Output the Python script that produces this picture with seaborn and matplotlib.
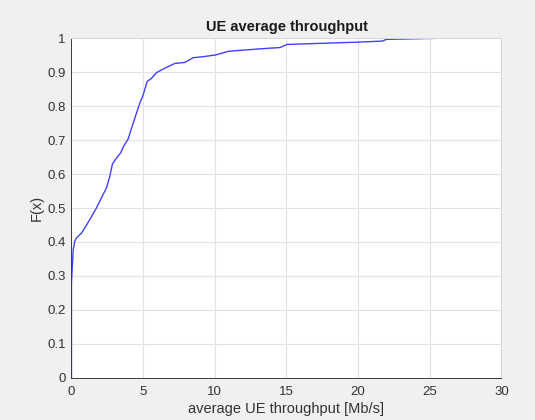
import matplotlib
matplotlib.use("Agg")
import matplotlib.pyplot as plt
import seaborn as sns
import pandas as pd

# CDF points (throughput in Mb/s, cumulative probability)
throughput = [0.0, 0.0, 0.12, 0.23, 0.35, 0.70, 1.05, 1.40, 1.74, 2.09, 2.44, 2.67,
              2.86, 3.14, 3.42, 3.65, 3.95, 4.19, 4.53, 4.77, 5.00, 5.28, 5.58, 5.93,
              6.51, 7.21, 7.91, 8.49, 9.19, 10.05, 10.97, 13.14, 14.56, 15.03, 20.1,
              21.7, 21.97, 25.4]
cdf = [0.0, 0.28, 0.377, 0.402, 0.412, 0.426, 0.45, 0.475, 0.50, 0.53, 0.559, 0.593,
       0.63, 0.647, 0.662, 0.683, 0.703, 0.735, 0.779, 0.809, 0.833, 0.873, 0.882, 0.899,
       0.912, 0.926, 0.929, 0.943, 0.946, 0.951, 0.962, 0.969, 0.973, 0.982, 0.989,
       0.992, 0.997, 1.0]

x_ticks = [0, 5, 10, 15, 20, 25, 30]
y_ticks = [0, 0.1, 0.2, 0.3, 0.4, 0.5, 0.6, 0.7, 0.8, 0.9, 1]
y_tick_labels = ["0", "0.1", "0.2", "0.3", "0.4", "0.5", "0.6", "0.7", "0.8", "0.9", "1"]

df = pd.DataFrame({"x": throughput, "F": cdf})

sns.set_style("white")
plt.rcParams['font.family'] = ['Liberation Sans', 'DejaVu Sans']

fig = plt.figure(figsize=(5.35, 4.2), dpi=100, facecolor="#f0f0f0")
ax = fig.add_axes([0.1336, 0.1007, 0.8037, 0.808])
ax.set_facecolor("white")

sns.lineplot(data=df, x="x", y="F", ax=ax, color="#4040ff", linewidth=1.0,
             sort=False, estimator=None)

ax.set_xlim(0, 30)
ax.set_ylim(0, 1)
ax.set_xticks(x_ticks)
ax.set_yticks(y_ticks)
ax.set_yticklabels(y_tick_labels)
ax.grid(True, color="#e2e2e2", linewidth=0.8)
ax.set_axisbelow(True)

for side in ["left", "bottom"]:
    ax.spines[side].set_color("#3a3a3a")
    ax.spines[side].set_linewidth(0.7)
for side in ["top", "right"]:
    ax.spines[side].set_color("#d8d8d8")
    ax.spines[side].set_linewidth(0.7)

ax.tick_params(axis="both", direction="in", length=3, width=0.6, color="#3a3a3a",
               labelsize=9.5, labelcolor="#333333")
ax.tick_params(axis="x", pad=6)
ax.tick_params(axis="y", pad=4)

ax.set_xlabel("average UE throughput [Mb/s]", fontsize=10.5, color="#333333", labelpad=3)
ax.set_ylabel("F(x)", fontsize=10.5, color="#333333", labelpad=3)
ax.set_title("UE average throughput", fontsize=10.5, fontweight="bold", color="#1a1a1a", pad=5)

fig.savefig("out.png", dpi=100, facecolor=fig.get_facecolor())
